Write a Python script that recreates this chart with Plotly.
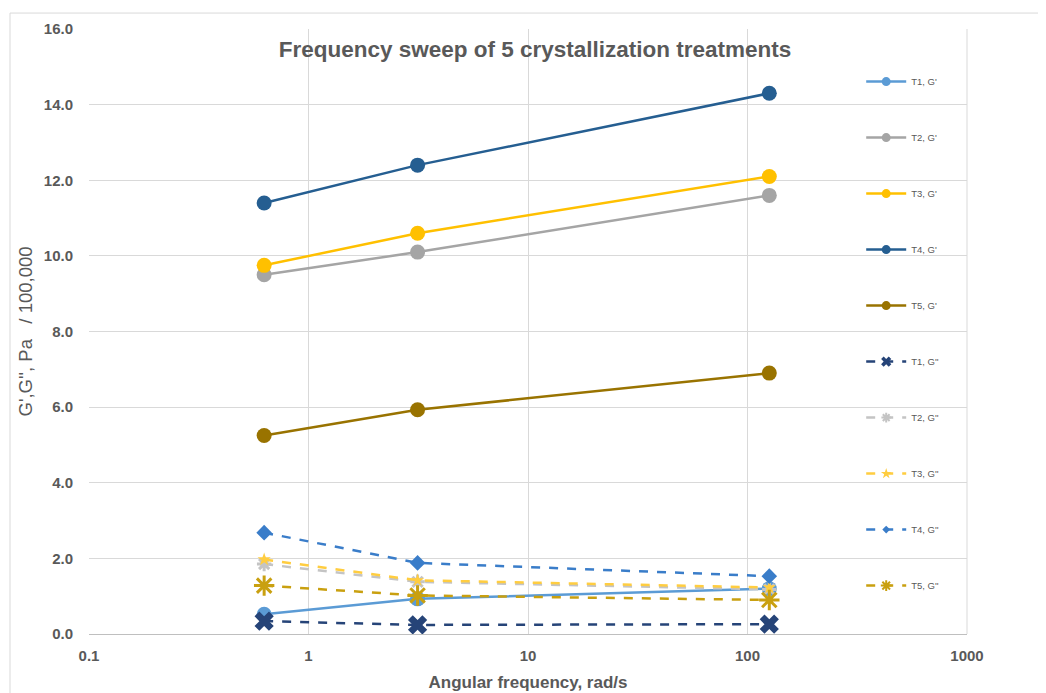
import plotly.graph_objects as go

freq = [0.628, 3.14, 125.7]

names = ["T1, G'", "T2, G'", "T3, G'", "T4, G'", "T5, G'",
         "T1, G''", "T2, G''", "T3, G''", "T4, G''", "T5, G''"]

t1_gp = [0.52, 0.93, 1.20]
t2_gp = [9.50, 10.10, 11.60]
t3_gp = [9.75, 10.60, 12.10]
t4_gp = [11.40, 12.40, 14.30]
t5_gp = [5.25, 5.93, 6.90]
t1_gpp = [0.34, 0.24, 0.26]
t2_gpp = [1.85, 1.38, 1.18]
t3_gpp = [1.97, 1.42, 1.23]
t4_gpp = [2.68, 1.88, 1.53]
t5_gpp = [1.28, 1.02, 0.90]

series = [t1_gp, t2_gp, t3_gp, t4_gp, t5_gp, t1_gpp, t2_gpp, t3_gpp, t4_gpp, t5_gpp]
colors = ["#5B9BD5", "#A5A5A5", "#FFC000", "#255E91", "#997300",
          "#264478", "#C4C4C4", "#FFCD40", "#3A7DC9", "#C9A010"]
symbols = ["circle"] * 5 + ["x", "asterisk-open", "star", "diamond", "asterisk-open"]
sizes = [15] * 5 + [17, 12, 10, 12, 17]
legend_sizes = [9] * 5 + [9, 8, 8, 6, 9]

fig = go.Figure()
for i, (nm, ys) in enumerate(zip(names, series)):
    dashed = i >= 5
    line = dict(color=colors[i], width=2.5, dash="dash" if dashed else "solid")
    mk = dict(symbol=symbols[i], size=sizes[i], color=colors[i])
    if symbols[i].startswith("asterisk"):
        mk["line"] = dict(color=colors[i], width=3)
    fig.add_trace(go.Scatter(
        x=freq, y=ys, name=nm, mode="lines+markers",
        line=line, marker=mk, showlegend=False,
    ))
    lmk = dict(symbol=symbols[i], size=legend_sizes[i], color=colors[i])
    if symbols[i].startswith("asterisk"):
        lmk["line"] = dict(color=colors[i], width=2)
    fig.add_trace(go.Scatter(
        x=[None], y=[None], name=nm, mode="lines+markers",
        line=line, marker=lmk, legendgroup=nm, showlegend=True,
    ))

fig.update_layout(
    width=1046, height=693,
    margin=dict(l=81, r=87, t=21, b=65),
    paper_bgcolor="white", plot_bgcolor="white",
    font=dict(family="Liberation Sans, Arial", color="#595959"),
    title=dict(text="<b>Frequency sweep of 5 crystallization treatments</b>",
               x=0.508, xanchor="center", xref="paper", y=0.94, yanchor="middle",
               font=dict(size=22.5, color="#595959")),
    xaxis=dict(type="log", range=[-1, 3], tickvals=[0.1, 1, 10, 100, 1000],
               ticktext=["<b>0.1</b>", "<b>1</b>", "<b>10</b>", "<b>100</b>", "<b>1000</b>"],
               showgrid=True, gridcolor="#D9D9D9", gridwidth=1,
               showline=True, linecolor="#BFBFBF", linewidth=1, mirror=False,
               ticks="", ticklabelstandoff=8, tickfont=dict(size=15, color="#595959"),
               title=dict(text="<b>Angular frequency, rad/s</b>", standoff=13,
                          font=dict(size=17, color="#595959")),
               zeroline=False),
    yaxis=dict(range=[0, 16], tickvals=[0, 2, 4, 6, 8, 10, 12, 14, 16],
               ticktext=["<b>%.1f</b>" % v for v in [0, 2, 4, 6, 8, 10, 12, 14, 16]],
               showgrid=True, gridcolor="#D9D9D9", gridwidth=1,
               showline=False, ticks="", ticklabelstandoff=15,
               tickfont=dict(size=15, color="#595959"),
               title=dict(text="G',G'', Pa   / 100,000", standoff=6,
                          font=dict(size=18.5, color="#595959")),
               zeroline=False),
    showlegend=True,
    legend=dict(x=0.8795, xanchor="left", y=0.937, yanchor="top",
                bgcolor="rgba(0,0,0,0)", font=dict(size=9.5, color="#595959"),
                tracegroupgap=37, itemwidth=40),
    shapes=[
        dict(type="rect", xref="paper", yref="paper",
             x0=(2 - 81) / 878, x1=(1032 - 81) / 878,
             y0=(628 - 700) / 607, y1=(628 - 5) / 607,
             line=dict(color="#D9D9D9", width=1), fillcolor="rgba(0,0,0,0)", layer="below"),
        dict(type="line", xref="paper", yref="paper", x0=1, x1=1, y0=0, y1=1,
             line=dict(color="#D9D9D9", width=1)),
    ],
)

fig.write_html("out.html")
